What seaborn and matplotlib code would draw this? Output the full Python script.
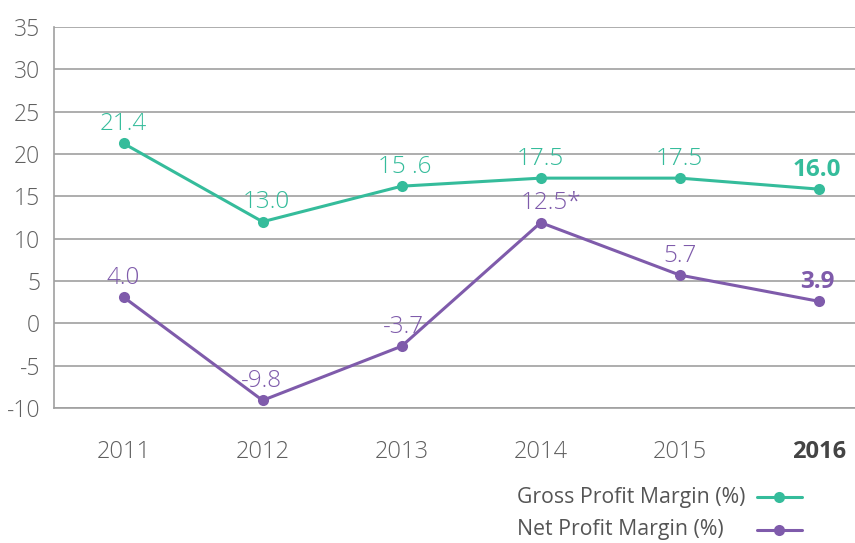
import matplotlib
matplotlib.use("Agg")
import matplotlib.pyplot as plt
from matplotlib.lines import Line2D
import seaborn as sns
import pandas as pd

years = ["2011", "2012", "2013", "2014", "2015", "2016"]
gross_values = [21.25, 12.0, 16.2, 17.15, 17.15, 15.85]
net_values = [3.1, -9.1, -2.7, 11.9, 5.7, 2.6]
gross_labels = ["21.4", "13.0", "15 .6", "17.5", "17.5", "16.0"]
net_labels = ["4.0", "-9.8", "-3.7", "12.5*", "5.7", "3.9"]
series_names = ["Gross Profit Margin (%)", "Net Profit Margin (%)"]
yticks = [-10, -5, 0, 5, 10, 15, 20, 25, 30, 35]

TEAL = "#35BC9B"
PURPLE = "#7F5BAB"
GRID = "#A0A0A0"
TXT = "#606060"

sns.set_theme(style="white")
plt.rcParams["font.family"] = ["Open Sans", "DejaVu Sans"]

df = pd.DataFrame({
    "x": list(range(len(years))) * 2,
    "value": gross_values + net_values,
    "series": [series_names[0]] * len(years) + [series_names[1]] * len(years),
})

W, H = 855, 543
fig = plt.figure(figsize=(W / 100, H / 100), dpi=100)
ax = fig.add_axes([54 / W, 1 - 408 / H, 1 - 54 / W, (408 - 27) / H])

sns.lineplot(data=df, x="x", y="value", hue="series", palette=[TEAL, PURPLE],
             marker="o", markersize=8, markeredgewidth=0, linewidth=2.2, ax=ax,
             legend=False)

ax.set_xlim(-0.5, 5.26)
ax.set_ylim(-10, 35)
ax.set_yticks(yticks)
ax.set_yticklabels([str(v) for v in yticks], fontsize=16.5, color=TXT, fontweight="light")
ax.yaxis.grid(True, color=GRID, linewidth=1.2)
ax.set_axisbelow(True)
ax.set_xticks(range(len(years)))
ax.set_xticklabels(years, fontsize=17, color=TXT, fontweight="light")
xl = ax.get_xticklabels()
xl[-1].set_fontweight("bold")
xl[-1].set_color("#444444")
ax.tick_params(axis="x", length=7, width=1, color=PURPLE, pad=16, direction="out")
ax.tick_params(axis="y", length=0, pad=10)
ax.set_xlabel("")
ax.set_ylabel("")
for s in ["top", "right"]:
    ax.spines[s].set_visible(False)
ax.spines["left"].set_color(GRID)
ax.spines["left"].set_linewidth(1.2)
ax.spines["bottom"].set_color(GRID)
ax.spines["bottom"].set_linewidth(1.2)

gross_dx = [0, 4, 3, 0, 0, -2]
net_dx = [0, -1, 2, 10, 0, -1]
for i in range(len(years)):
    ax.annotate(gross_labels[i], (i, gross_values[i]), xytext=(gross_dx[i] * 0.72, 14),
                textcoords="offset points", ha="center", va="center", fontsize=17.5,
                color=TEAL, fontweight="bold" if i == len(years) - 1 else "light")
    ax.annotate(net_labels[i], (i, net_values[i]), xytext=(net_dx[i] * 0.72, 14),
                textcoords="offset points", ha="center", va="center", fontsize=17.5,
                color=PURPLE, fontweight="bold" if i == len(years) - 1 else "light")

# legend: text left-aligned, handle on the right
for name, col, yp in zip(series_names, [TEAL, PURPLE], [497, 530]):
    fy = 1 - yp / H
    fig.text(517 / W, fy, name, ha="left", va="center", fontsize=15.3,
             color="#555555", fontweight="normal")
    fig.add_artist(Line2D([757 / W, 802 / W], [fy, fy], transform=fig.transFigure,
                          color=col, linewidth=2.2))
    fig.add_artist(Line2D([779 / W], [fy], transform=fig.transFigure, color=col,
                          marker="o", markersize=8, markeredgewidth=0, linestyle="none"))

fig.savefig("out.png", dpi=100)
